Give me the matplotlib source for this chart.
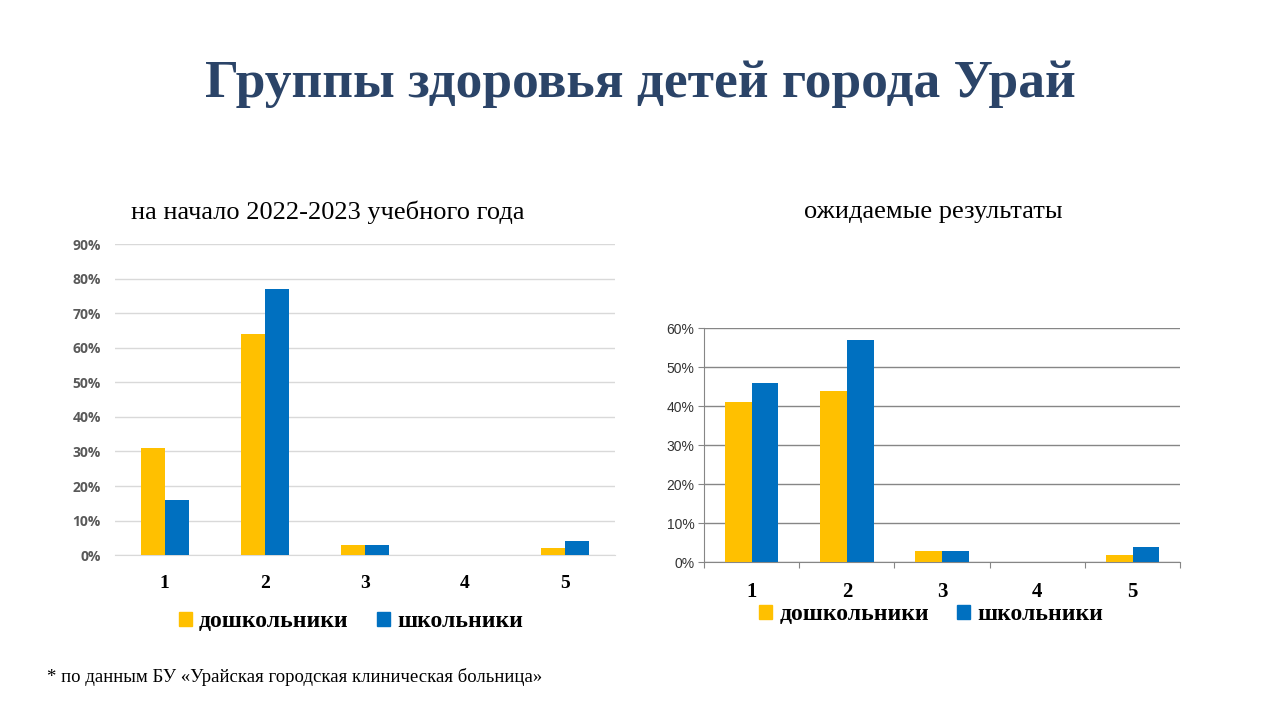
import matplotlib
matplotlib.use("Agg")
import matplotlib.pyplot as plt
import numpy as np
from matplotlib.ticker import FuncFormatter, MultipleLocator
from matplotlib.patches import Patch

categories = ["1", "2", "3", "4", "5"]
series_names = ["дошкольники", "школьники"]
left_preschool = [31, 64, 3, 0, 2]
left_school = [16, 77, 3, 0, 4]
right_preschool = [41, 44, 3, 0, 2]
right_school = [46, 57, 3, 0, 4]

title = "Группы здоровья детей города Урай"
left_title = "на начало 2022-2023 учебного года"
right_title = "ожидаемые результаты"
footnote = "* по данным БУ «Урайская городская клиническая больница»"

YELLOW = "#FFC000"
BLUE = "#0070C0"
SERIF = ["Liberation Serif", "DejaVu Serif"]
SANS = ["Liberation Sans", "DejaVu Sans"]

fig = plt.figure(figsize=(12.8, 7.2), dpi=100)
fig.patch.set_facecolor("white")

fig.text(0.5, 0.883, title, ha="center", va="center", fontsize=38.5, fontweight="bold",
         color="#2B4468", family=SERIF)
fig.text(0.256, 0.705, left_title, ha="center", va="center", fontsize=19, color="black", family=SERIF)
fig.text(0.729, 0.705, right_title, ha="center", va="center", fontsize=19, color="black", family=SERIF)
fig.text(0.037, 0.06, footnote, ha="left", va="center", fontsize=13.5, color="black", family=SERIF)

x = np.arange(len(categories))

# Left chart
ax1 = fig.add_axes([0.0895, 0.229, 0.391, 0.432])
w1 = 0.24
ax1.bar(x - w1 / 2, left_preschool, w1, color=YELLOW, zorder=3)
ax1.bar(x + w1 / 2, left_school, w1, color=BLUE, zorder=3)
ax1.set_xlim(-0.5, 4.5)
ax1.set_ylim(0, 90)
ax1.yaxis.set_major_locator(MultipleLocator(10))
ax1.yaxis.set_major_formatter(FuncFormatter(lambda v, p: f"{int(round(v))}%"))
ax1.grid(axis="y", color="#D9D9D9", linewidth=1, zorder=0)
for s in ["top", "right", "left"]:
    ax1.spines[s].set_visible(False)
ax1.spines["bottom"].set_color("#D9D9D9")
ax1.tick_params(axis="y", length=0, labelsize=10, labelcolor="#595959", pad=10)
for lbl in ax1.get_yticklabels():
    lbl.set_fontweight("bold")
    lbl.set_family(["Open Sans", "DejaVu Sans"])
ax1.set_xticks(x)
ax1.set_xticklabels(categories, fontsize=14, fontweight="bold", family=SERIF)
ax1.tick_params(axis="x", length=0, pad=14)
ax1.legend(handles=[Patch(color=YELLOW), Patch(color=BLUE)], labels=series_names,
           loc="center", bbox_to_anchor=(0.4725, -0.215), ncol=2, frameon=False,
           prop={"family": SERIF, "weight": "bold", "size": 17},
           handlelength=0.55, handleheight=0.55, handletextpad=0.3, columnspacing=1.2)

# Right chart
ax2 = fig.add_axes([0.55, 0.219, 0.372, 0.325])
w2 = 0.28
ax2.bar(x - w2 / 2, right_preschool, w2, color=YELLOW, zorder=3)
ax2.bar(x + w2 / 2, right_school, w2, color=BLUE, zorder=3)
ax2.set_xlim(-0.5, 4.5)
ax2.set_ylim(0, 60)
ax2.yaxis.set_major_locator(MultipleLocator(10))
ax2.yaxis.set_major_formatter(FuncFormatter(lambda v, p: f"{int(round(v))}%"))
ax2.grid(axis="y", color="#868686", linewidth=1, zorder=0)
for s in ["top", "right"]:
    ax2.spines[s].set_visible(False)
ax2.spines["left"].set_color("#868686")
ax2.spines["bottom"].set_color("#868686")
ax2.tick_params(axis="y", length=4, color="#868686", labelsize=10, labelcolor="#333333", pad=3)
for lbl in ax2.get_yticklabels():
    lbl.set_family(SANS)
ax2.set_xticks(np.arange(-0.5, 5, 1.0), minor=False)
ax2.set_xticklabels([])
ax2.tick_params(axis="x", which="major", length=4, color="#868686")
ax2.set_xticks(x, minor=True)
ax2.set_xticklabels(categories, minor=True, fontsize=15, fontweight="bold", family=SERIF)
ax2.tick_params(axis="x", which="minor", length=0, pad=14)
ax2.legend(handles=[Patch(color=YELLOW), Patch(color=BLUE)], labels=series_names,
           loc="center", bbox_to_anchor=(0.477, -0.225), ncol=2, frameon=False,
           prop={"family": SERIF, "weight": "bold", "size": 17},
           handlelength=0.55, handleheight=0.55, handletextpad=0.3, columnspacing=1.2)

fig.savefig("out.png", dpi=100, facecolor="white")
